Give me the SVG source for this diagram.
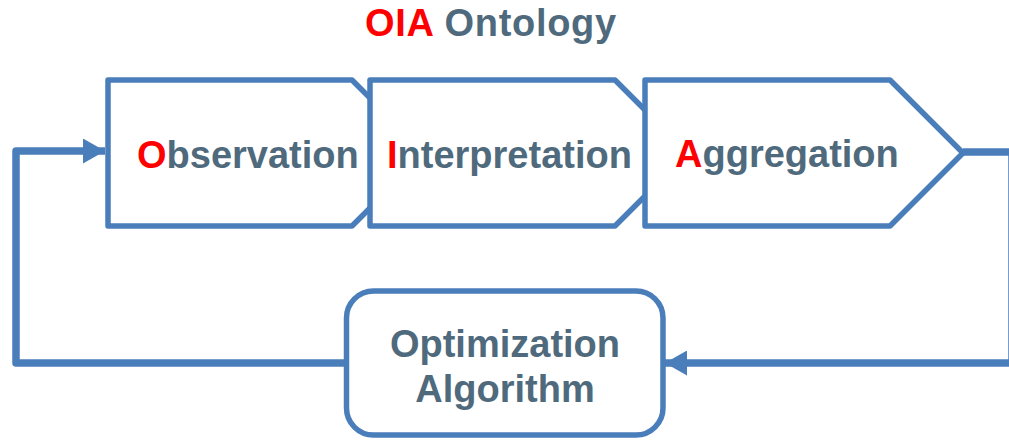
<svg xmlns="http://www.w3.org/2000/svg" width="1009" height="440" viewBox="0 0 1009 440">
  <style>
    .shape { fill: #ffffff; stroke: #4A7EBB; stroke-width: 5.5; stroke-linejoin: round; }
    .wire { fill: none; stroke: #4A7EBB; stroke-width: 7.5; stroke-linejoin: round; }
    .label { font-family: "Liberation Sans", Arial, sans-serif; font-weight: bold; font-size: 38px; fill: #4F6A7D; }
    .key { fill: #FF0000; }
  </style>
  <defs>
    <marker id="arrow" viewBox="0 0 22 25" refX="22" refY="12.5" markerUnits="userSpaceOnUse" markerWidth="22" markerHeight="25" orient="auto">
      <path d="M0,0 L22,12.5 L0,25 Z" fill="#4A7EBB"/>
    </marker>
  </defs>

  <!-- title -->
  <text id="title" x="365" y="36" class="label" style="letter-spacing:0.7px"><tspan class="key">OIA</tspan> Ontology</text>

  <!-- chevron stages, drawn left to right so each one covers the previous tip -->
  <g id="observation">
    <path class="shape" d="M108,80 L352,80 L425,153 L352,226 L108,226 Z"/>
    <text x="137" y="168" class="label"><tspan class="key">O</tspan>bservation</text>
  </g>
  <g id="interpretation">
    <path class="shape" d="M370,80 L615,80 L688,153 L615,226 L370,226 Z"/>
    <text x="387" y="168" class="label"><tspan class="key">I</tspan>nterpretation</text>
  </g>
  <g id="aggregation">
    <path class="shape" d="M645,80 L890,80 L963,153 L890,226 L645,226 Z"/>
    <text x="675" y="167" class="label"><tspan class="key">A</tspan>ggregation</text>
  </g>

  <!-- optimizer -->
  <g id="optimizer">
    <rect class="shape" x="346.5" y="291" width="316.5" height="144" rx="27" ry="27"/>
    <text x="505" y="357" class="label" text-anchor="middle">Optimization</text>
    <text x="505" y="402" class="label" text-anchor="middle">Algorithm</text>
  </g>

  <!-- feedback loop -->
  <g id="connectors">
    <path class="wire" d="M963,152 L1012,152 L1012,363 L665,363" marker-end="url(#arrow)"/>
    <path class="wire" d="M346,363 L16,363 L16,151 L105,151" marker-end="url(#arrow)"/>
  </g>
</svg>
